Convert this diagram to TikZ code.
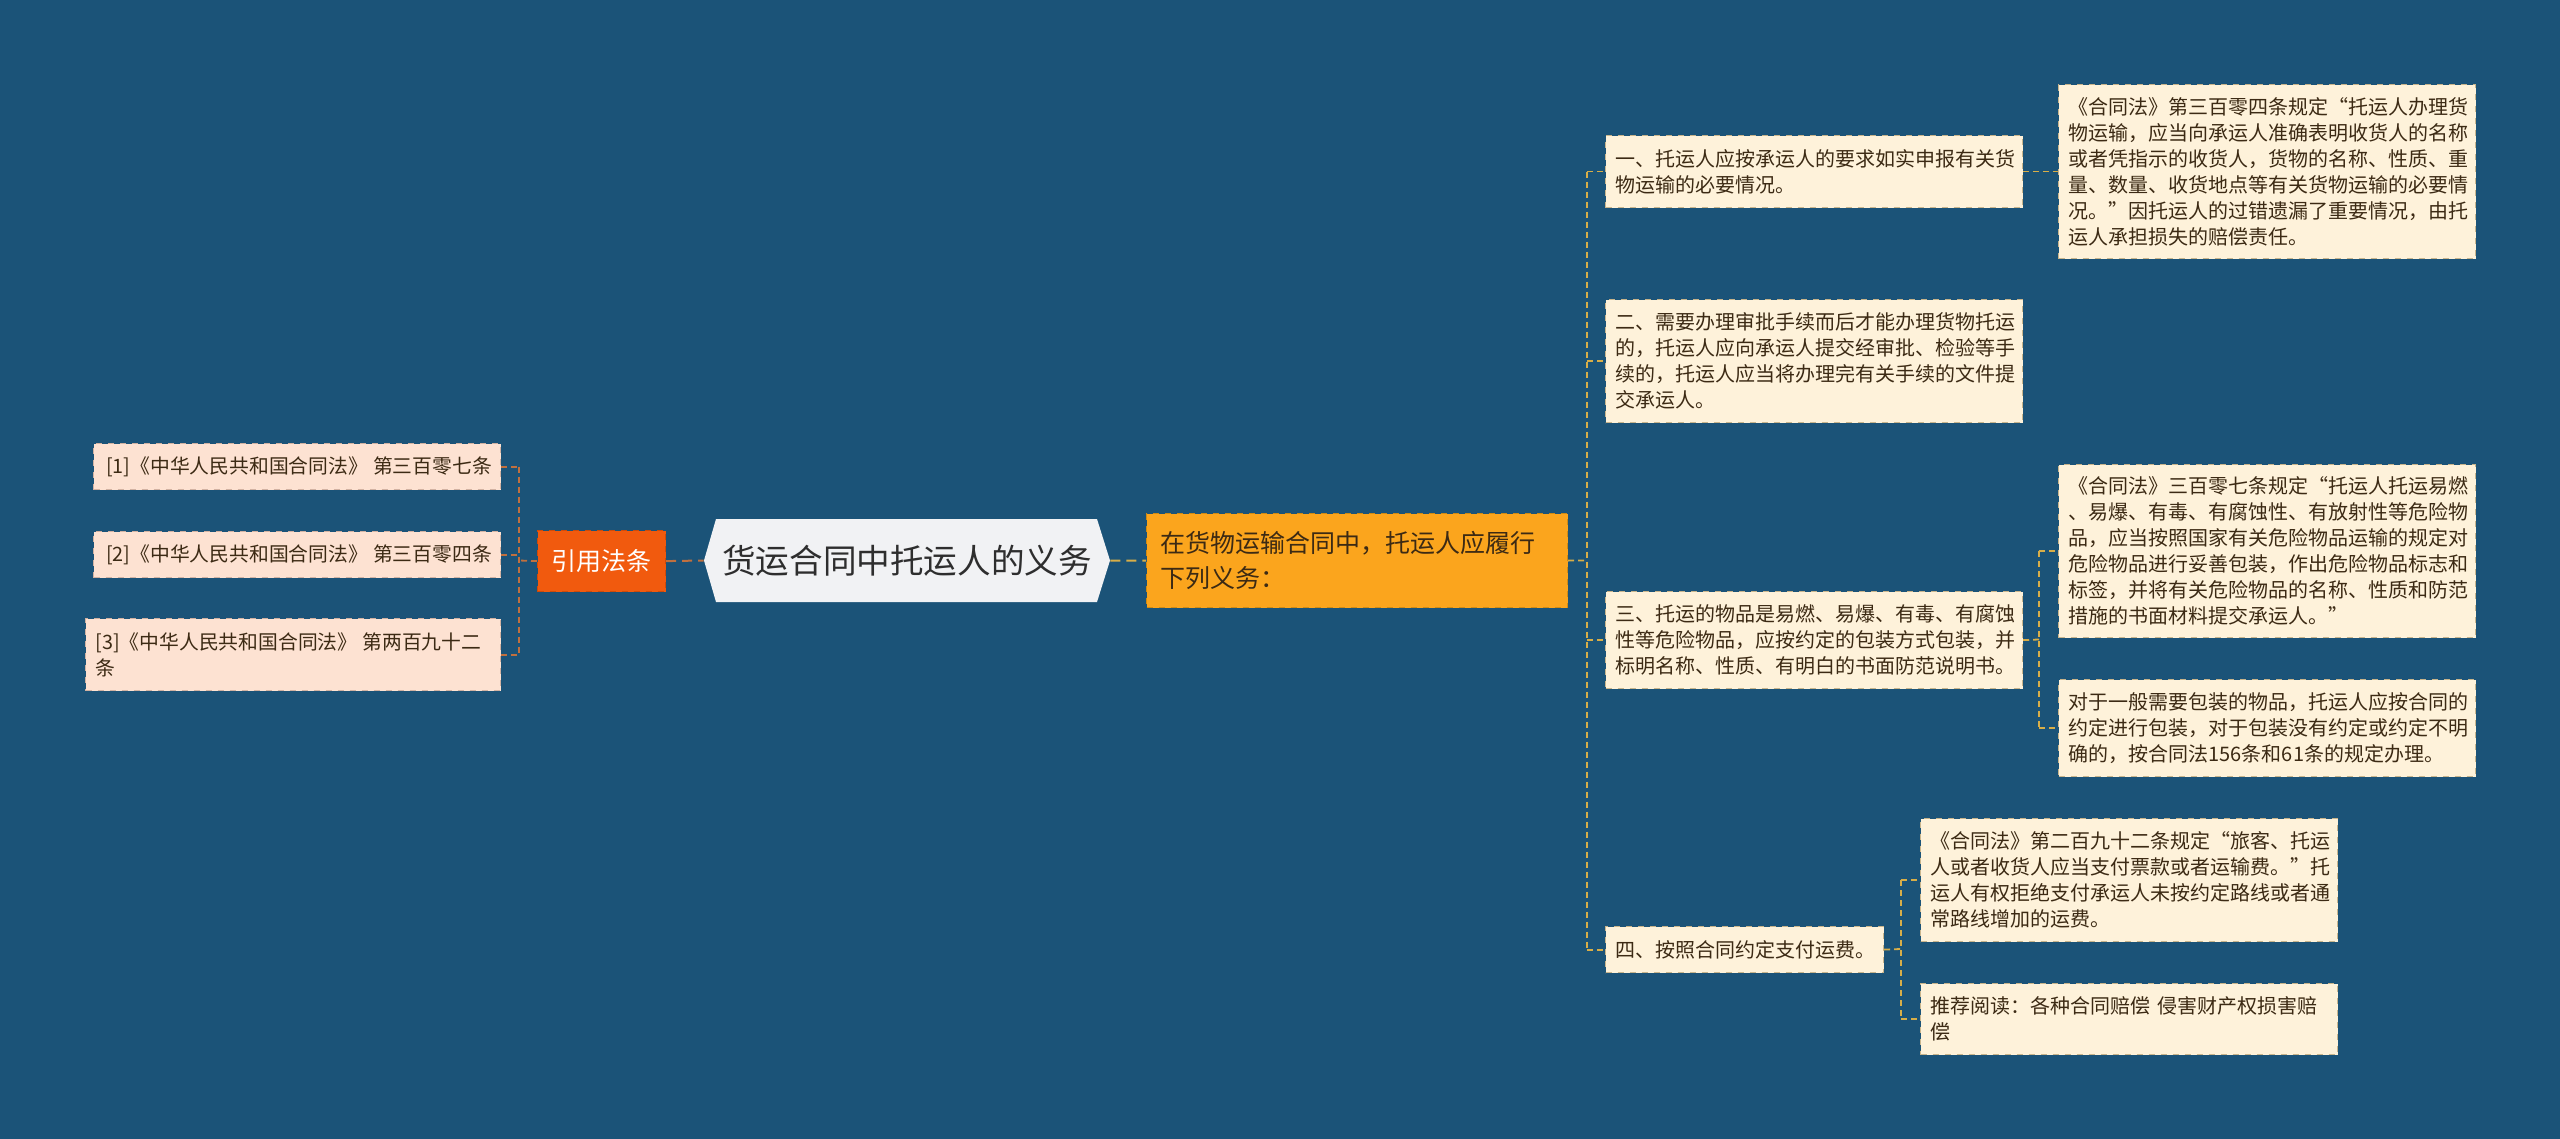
\documentclass[tikz,border=0pt]{standalone}
\usepackage{fontspec}
\newfontfamily\cjk{Noto Sans CJK SC}
\definecolor{bg}{HTML}{1B5378}
\definecolor{cream}{HTML}{FEF2DA}
\definecolor{creamd}{HTML}{C9B58C}
\definecolor{peach}{HTML}{FDE2D2}
\definecolor{peachd}{HTML}{D2B2A2}
\definecolor{txt}{HTML}{3C2A14}
\definecolor{rline}{HTML}{D8AE48}
\definecolor{lline}{HTML}{C0703F}
\definecolor{citefill}{HTML}{F15A0E}
\definecolor{citedraw}{HTML}{D04A08}
\definecolor{orfill}{HTML}{FBA51D}
\definecolor{ordraw}{HTML}{D08A12}
\definecolor{hexfill}{HTML}{F1F2F4}
\definecolor{hextxt}{HTML}{2E2E2E}
\begin{document}
\begin{tikzpicture}[x=0.5pt,y=-0.5pt,
  boxbase/.style={anchor=north west, align=left, inner ysep=0pt, text=txt,
    font=\cjk\fontsize{10}{13}\selectfont},
  rbox/.style={boxbase, fill=cream, draw=creamd, dashed, line width=0.6pt, inner xsep=5pt},
  refbox/.style={boxbase, fill=peach, draw=peachd, dashed, line width=0.6pt,
    font=\cjk\fontsize{9.9}{13}\selectfont},
  rcon/.style={draw=rline, line width=0.9pt, dash pattern=on 3pt off 2pt},
  lcon/.style={draw=lline, line width=0.9pt, dash pattern=on 3pt off 2pt}
]
\fill[bg] (0,0) rectangle (2560,1139);
\useasboundingbox (0,0) rectangle (2560,1139);

% left references
\node[refbox, inner xsep=6.3pt, text width=190.9pt, minimum height=23pt] (r1) at (93,443)
  {\mbox{[1]《中华人民共和国合同法》\hspace{0.25em}第三百零七条}};
\node[refbox, inner xsep=6.3pt, text width=190.9pt, minimum height=23pt] (r2) at (93,531)
  {\mbox{[2]《中华人民共和国合同法》\hspace{0.25em}第三百零四条}};
\node[refbox, inner xsep=5pt, text width=197.5pt, minimum height=36pt] (r3) at (85,618)
  {\mbox{[3]《中华人民共和国合同法》\hspace{0.25em}第两百九十二}\\条};

% cite node
\node[anchor=north west, fill=citefill, draw=citedraw, dashed, line width=0.6pt,
  minimum width=64pt, minimum height=30.5pt, inner sep=0pt, text=white,
  font=\cjk\fontsize{12.5}{14}\selectfont] (cite) at (537,530) {引用法条};

% center hexagon
\fill[hexfill] (704,560.5) -- (716,519) -- (1097,519) -- (1110,560.5) -- (1097,602) -- (716,602) -- cycle;
\node[minimum width=203pt, minimum height=41.5pt, inner sep=0pt, text=hextxt,
  font=\cjk\fontsize{16.8}{18}\selectfont] (ctr) at (907,560.5) {货运合同中托运人的义务};

% orange node
\node[anchor=north west, fill=orfill, draw=ordraw, dashed, line width=0.6pt,
  inner xsep=7pt, inner ysep=0pt, text width=196.5pt, minimum height=47pt, align=left,
  text=txt, font=\cjk\fontsize{12.5}{17.5}\selectfont] (orange) at (1146,513)
  {在货物运输合同中，托运人应履行\\下列义务：};

% level 1 right
\node[rbox, text width=198.5pt, minimum height=36pt] (n1) at (1605,135)
  {一、托运人应按承运人的要求如实申报有关货\\物运输的必要情况。};
\node[rbox, text width=198.5pt, minimum height=61.5pt] (n2) at (1605,299)
  {二、需要办理审批手续而后才能办理货物托运\\的，托运人应向承运人提交经审批、检验等手\\续的，托运人应当将办理完有关手续的文件提\\交承运人。};
\node[rbox, text width=198.5pt, minimum height=48.5pt] (n3) at (1605,591)
  {三、托运的物品是易燃、易爆、有毒、有腐蚀\\性等危险物品，应按约定的包装方式包装，并\\标明名称、性质、有明白的书面防范说明书。};
\node[rbox, text width=129pt, minimum height=23pt] (n4) at (1605,926)
  {四、按照合同约定支付运费。};

% level 2 right
\node[rbox, text width=198.5pt, minimum height=87pt] (c1) at (2058,84)
  {《合同法》第三百零四条规定“托运人办理货\\物运输，应当向承运人准确表明收货人的名称\\或者凭指示的收货人，货物的名称、性质、重\\量、数量、收货地点等有关货物运输的必要情\\况。”因托运人的过错遗漏了重要情况，由托\\运人承担损失的赔偿责任。};
\node[rbox, text width=198.5pt, minimum height=86.5pt] (c3a) at (2058,464)
  {《合同法》三百零七条规定“托运人托运易燃\\、易爆、有毒、有腐蚀性、有放射性等危险物\\品，应当按照国家有关危险物品运输的规定对\\危险物品进行妥善包装，作出危险物品标志和\\标签，并将有关危险物品的名称、性质和防范\\措施的书面材料提交承运人。”};
\node[rbox, text width=198.5pt, minimum height=48.5pt] (c3b) at (2058,679)
  {对于一般需要包装的物品，托运人应按合同的\\约定进行包装，对于包装没有约定或约定不明\\确的，按合同法156条和61条的规定办理。};
\node[rbox, text width=198.5pt, minimum height=61.5pt] (c4a) at (1920,818)
  {《合同法》第二百九十二条规定“旅客、托运\\人或者收货人应当支付票款或者运输费。”托\\运人有权拒绝支付承运人未按约定路线或者通\\常路线增加的运费。};
\node[rbox, text width=198.5pt, minimum height=35.5pt] (c4b) at (1920,983)
  {推荐阅读：各种合同赔偿 侵害财产权损害赔\\偿};

% connectors left
\coordinate (ls) at (519,560.5);
\draw[lcon] (cite.west) -- (ls);
\draw[lcon] (ls |- r1.east) -- (ls |- r3.east);
\foreach \r in {r1,r2,r3} \draw[lcon] (\r.east) -- (ls |- \r.east);
\draw[draw=lline, line width=1pt, dash pattern=on 5pt off 3pt] (cite.east) -- (ctr.west);
\draw[draw=rline, line width=1pt, dash pattern=on 5pt off 3pt] (ctr.east) -- (orange.west);

% connectors right
\coordinate (sp) at (1587,560.5);
\draw[rcon] (orange.east) -- (sp);
\draw[rcon] (sp |- n1.west) -- (sp |- n4.west);
\foreach \n in {n1,n2,n3,n4} \draw[rcon] (sp |- \n.west) -- (\n.west);
\draw[rcon] (n1.east) -- (c1.west);
\coordinate (s3) at (2039,639.5);
\draw[rcon] (n3.east) -- (s3);
\draw[rcon] (s3 |- c3a.west) -- (s3 |- c3b.west);
\foreach \c in {c3a,c3b} \draw[rcon] (s3 |- \c.west) -- (\c.west);
\coordinate (s4) at (1901,949);
\draw[rcon] (n4.east) -- (s4);
\draw[rcon] (s4 |- c4a.west) -- (s4 |- c4b.west);
\foreach \c in {c4a,c4b} \draw[rcon] (s4 |- \c.west) -- (\c.west);
\end{tikzpicture}
\end{document}
